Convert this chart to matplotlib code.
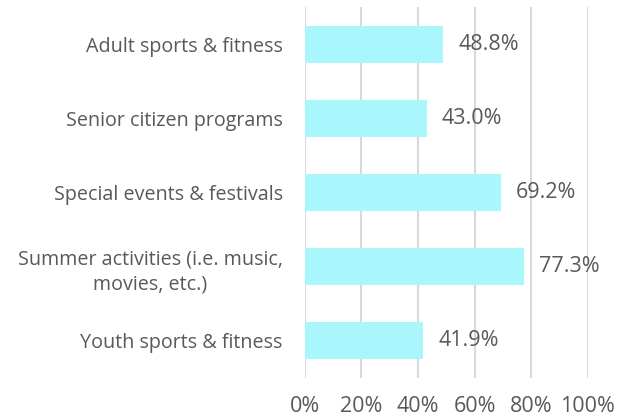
import matplotlib.pyplot as plt

categories = ["Adult sports & fitness", "Senior citizen programs", "Special events & festivals",
              "Summer activities (i.e. music,\nmovies, etc.)", "Youth sports & fitness"]
values = [48.8, 43.0, 69.2, 77.3, 41.9]
xticks = [0, 20, 40, 60, 80, 100]

plt.rcParams['font.family'] = ['Open Sans', 'DejaVu Sans']
grey = "#595959"

fig = plt.figure(figsize=(6.26, 4.17), dpi=100)
ax = fig.add_axes([0.487, 0.0935, 0.452, 0.889])

ypos = list(range(len(categories)))
ax.barh(ypos, values, height=0.5, color="#A9F7FD", zorder=2)
for y, v in zip(ypos, values):
    ax.annotate(f"{v:.1f}%", (v, y), xytext=(11, 0), textcoords="offset points",
                va="center", ha="left", fontsize=15.5, color=grey)

ax.set_ylim(4.5, -0.5)
ax.set_xlim(0, 100)
ax.set_yticks(ypos)
ax.set_yticklabels(categories, fontsize=14.2, color=grey, linespacing=1.35,
                   multialignment="center")
ax.set_xticks(xticks)
ax.set_xticklabels([f"{t}%" for t in xticks], fontsize=15.5, color=grey)
ax.tick_params(length=0, axis="y", pad=16)
ax.tick_params(length=0, axis="x", pad=13)
ax.grid(axis="x", color="#D9D9D9", linewidth=1.5, zorder=0)
for s in ax.spines.values():
    s.set_visible(False)

fig.savefig("out.png", dpi=100)
